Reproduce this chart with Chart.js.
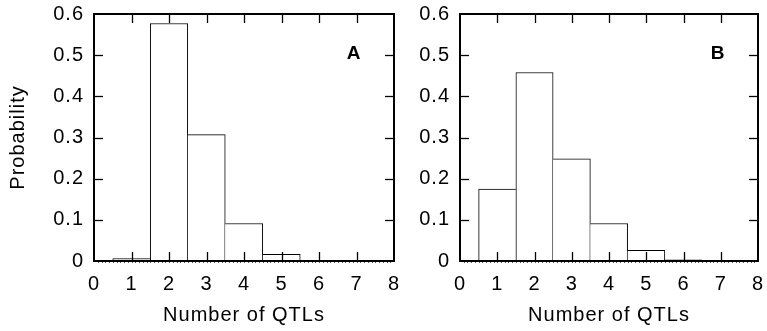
<!DOCTYPE html>
<html>
<head>
<meta charset="utf-8">
<script src="https://cdn.jsdelivr.net/npm/chart.js@4/dist/chart.umd.min.js"></script>
<style>
    html, body { margin: 0; padding: 0; background: #fff; }
    #wrap { position: relative; width: 767px; height: 331px; }
    .panel { position: absolute; top: 0; height: 331px; }
    #panelA { left: 0; width: 400px; }
    #panelB { left: 400px; width: 367px; }
</style>
</head>
<body>
<div id="wrap">
    <div class="panel" id="panelA"><canvas id="chartA"></canvas></div>
    <div class="panel" id="panelB"><canvas id="chartB"></canvas></div>
</div>
<script>
// ========================================
// Data
// ========================================
const qtlCounts = [1, 2, 3, 4, 5, 6, 7];
const probA = [0.006, 0.577, 0.307, 0.091, 0.016, 0, 0];
const probB = [0.175, 0.458, 0.248, 0.091, 0.026, 0.003, 0];
const xTicks = [0, 1, 2, 3, 4, 5, 6, 7, 8];
const yTicks = [0, 0.1, 0.2, 0.3, 0.4, 0.5, 0.6];

const FONT = 'Liberation Sans, Arial, Helvetica, sans-serif';
Chart.defaults.font.family = FONT;
Chart.defaults.font.size = 20;
Chart.defaults.color = '#000';

// the original lettering is a bit looser than Arial
const spacingPlugin = {
    id: 'spacing',
    beforeLayout(chart) { chart.ctx.letterSpacing = '1px'; },
    beforeDraw(chart) { chart.ctx.letterSpacing = '1px'; }
};

// ========================================
// Frame, inward ticks and panel letter
// ========================================
const framePlugin = {
    id: 'frame',
    afterDatasetsDraw(chart, args, opts) {
        const { ctx, chartArea: a, scales: { x, y } } = chart;
        const line = (x1, y1, x2, y2) => {
            ctx.beginPath();
            ctx.moveTo(x1, y1);
            ctx.lineTo(x2, y2);
            ctx.stroke();
        };
        ctx.save();

        // minor ticks under the x axis
        ctx.lineWidth = 1;
        ctx.strokeStyle = '#555';
        for (let i = 1; i < 80; i++) {
            const px = Math.round(x.getPixelForValue(i / 10)) + 0.5;
            line(px, a.bottom, px, a.bottom + 2);
        }

        // major ticks pointing inward
        ctx.strokeStyle = '#000';
        ctx.lineWidth = 1.3;
        xTicks.slice(1, -1).forEach(v => {
            const px = Math.round(x.getPixelForValue(v)) + 0.5;
            line(px, a.bottom, px, a.bottom - 9);
            line(px, a.top, px, a.top + 9);
        });
        yTicks.slice(1, -1).forEach(v => {
            const py = Math.round(y.getPixelForValue(v)) + 0.5;
            line(a.left, py, a.left + 9, py);
            line(a.right, py, a.right - 9, py);
        });

        // box
        ctx.lineWidth = 2;
        ctx.strokeRect(a.left, a.top, a.right - a.left, a.bottom - a.top);

        // panel letter
        ctx.fillStyle = '#000';
        ctx.font = 'bold 19px ' + FONT;
        ctx.textAlign = 'center';
        ctx.textBaseline = 'middle';
        ctx.fillText(opts.letter, a.right - 40, a.top + 40);
        ctx.restore();
    }
};

// only one side draws each shared edge
function edgeWidths(values) {
    return ctx => {
        const i = ctx.dataIndex;
        const v = values[i];
        const prev = i > 0 ? values[i - 1] : 0;
        const next = i < values.length - 1 ? values[i + 1] : 0;
        return {
            top: 1,
            bottom: 0,
            left: prev <= v ? 1 : 0,
            right: next < v ? 1 : 0
        };
    };
}

function noPadding(s) {
    s.paddingTop = 0;
    s.paddingBottom = 0;
    s.paddingLeft = 0;
    s.paddingRight = 0;
}

function makeChart(id, values, letter, yWidth, padRight, showYTitle) {
    return new Chart(document.getElementById(id), {
        type: 'bar',
        data: {
            datasets: [{
                data: qtlCounts.map((q, i) => ({ x: q, y: values[i] })),
                backgroundColor: '#fff',
                borderColor: '#000',
                borderWidth: edgeWidths(values),
                borderSkipped: false,
                barPercentage: 1,
                categoryPercentage: 1
            }]
        },
        options: {
            responsive: true,
            maintainAspectRatio: false,
            animation: false,
            layout: { padding: { top: 14, right: padRight, left: 0, bottom: 0 } },
            plugins: {
                legend: { display: false },
                tooltip: { enabled: false },
                frame: { letter: letter }
            },
            scales: {
                x: {
                    type: 'linear',
                    min: 0,
                    max: 8,
                    offset: false,
                    afterBuildTicks: s => { s.ticks = xTicks.map(v => ({ value: v })); },
                    ticks: { padding: 11, maxRotation: 0, autoSkip: false },
                    grid: { display: false, drawTicks: false },
                    border: { display: false },
                    title: {
                        display: true,
                        text: 'Number of QTLs',
                        padding: { top: 0, bottom: 4 }
                    },
                    afterFit: s => { s.height = 70; noPadding(s); }
                },
                y: {
                    min: 0,
                    max: 0.6,
                    afterBuildTicks: s => { s.ticks = yTicks.map(v => ({ value: v })); },
                    ticks: { padding: 10 },
                    grid: { display: false, drawTicks: false },
                    border: { display: false },
                    title: {
                        display: showYTitle,
                        text: 'Probability',
                        padding: { top: 6, bottom: 0 }
                    },
                    afterFit: s => { s.width = yWidth; noPadding(s); }
                }
            }
        },
        plugins: [spacingPlugin, framePlugin]
    });
}

makeChart('chartA', probA, 'A', 94, 6, true);
makeChart('chartB', probB, 'B', 60, 9, false);
</script>
</body>
</html>
